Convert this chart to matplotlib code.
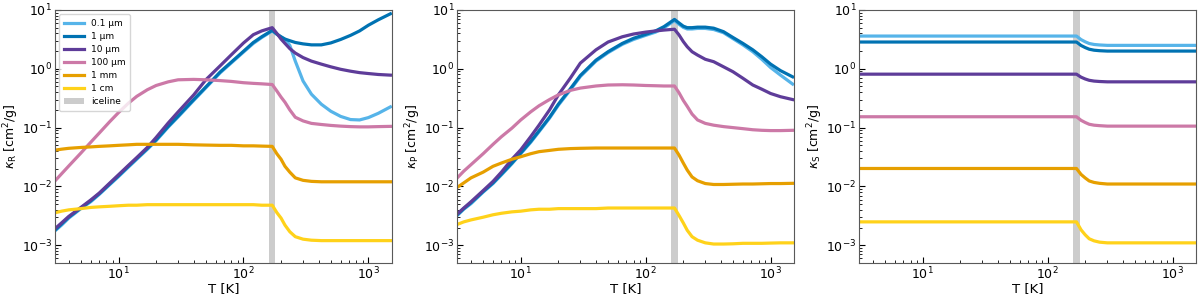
import numpy as np
import matplotlib
matplotlib.use("Agg")
import matplotlib.pyplot as plt

# ---------------- data ----------------
labels = ["0.1 µm", "1 µm", "10 µm", "100 µm", "1 mm", "1 cm"]
colors = ["#56B4E9", "#0072B2", "#5E3C99", "#CC79A7", "#E69F00", "#FFD21A"]

T = [3, 3.5, 4, 5, 6, 7, 8.5, 10, 12, 14, 17, 20, 25, 30, 40, 50, 65, 80, 100,
     120, 140, 170, 185, 200, 215, 235, 260, 300, 350, 420, 500, 600, 720, 850,
     1000, 1200, 1500]

# Rosseland mean opacity kappa_R
kR_01um = [0.00165, 0.0022, 0.0029, 0.0042, 0.0055, 0.0073, 0.0107, 0.0147, 0.0213,
           0.029, 0.0427, 0.060, 0.102, 0.152, 0.29, 0.475, 0.85, 1.26, 1.92,
           2.7, 3.4, 4.4, 3.85, 3.45, 3.15, 2.5, 1.35, 0.62, 0.37, 0.25,
           0.19, 0.155, 0.137, 0.135, 0.148, 0.175, 0.225]
kR_1um = [0.0017, 0.0023, 0.003, 0.0043, 0.0057, 0.0075, 0.011, 0.0152, 0.022,
          0.030, 0.044, 0.062, 0.105, 0.157, 0.30, 0.49, 0.88, 1.3, 1.98,
          2.8, 3.5, 4.5, 3.9, 3.5, 3.2, 3.0, 2.8, 2.65, 2.55, 2.55,
          2.75, 3.15, 3.7, 4.4, 5.5, 6.8, 8.6]
kR_10um = [0.0018, 0.0024, 0.0031, 0.0044, 0.0059, 0.0077, 0.0114, 0.0158, 0.0228,
           0.031, 0.046, 0.068, 0.12, 0.185, 0.36, 0.65, 1.12, 1.73, 2.74,
           3.8, 4.4, 5.0, 4.0, 3.2, 2.7, 2.2, 1.85, 1.55, 1.35, 1.2,
           1.08, 0.98, 0.91, 0.86, 0.83, 0.80, 0.78]
kR_100um = [0.0115, 0.0164, 0.0223, 0.037, 0.0565, 0.0805, 0.126, 0.18, 0.26,
            0.34, 0.44, 0.52, 0.60, 0.65, 0.66, 0.65, 0.63, 0.61, 0.58,
            0.565, 0.555, 0.54, 0.42, 0.33, 0.27, 0.20, 0.15, 0.13, 0.118, 0.113,
            0.109, 0.106, 0.104, 0.103, 0.103, 0.104, 0.105]
kR_1mm = [0.041, 0.043, 0.0445, 0.046, 0.047, 0.048, 0.049, 0.050, 0.051,
          0.052, 0.052, 0.052, 0.052, 0.052, 0.051, 0.0505, 0.050, 0.050, 0.049,
          0.049, 0.0485, 0.048, 0.036, 0.029, 0.022, 0.0175, 0.014, 0.0127, 0.0122, 0.012,
          0.012, 0.012, 0.012, 0.012, 0.012, 0.012, 0.012]
kR_1cm = [0.0035, 0.0038, 0.0040, 0.0042, 0.0044, 0.0045, 0.0046, 0.0047, 0.0048,
          0.0048, 0.0049, 0.0049, 0.0049, 0.0049, 0.0049, 0.0049, 0.0049, 0.0049, 0.0049,
          0.0049, 0.0048, 0.0048, 0.0036, 0.0029, 0.0022, 0.0017, 0.0014, 0.00127, 0.00122, 0.0012,
          0.0012, 0.0012, 0.0012, 0.0012, 0.0012, 0.0012, 0.0012]

# Planck mean opacity kappa_P
kP_01um = [0.0030, 0.0041, 0.0051, 0.0080, 0.0112, 0.0157, 0.0243, 0.036, 0.056,
           0.085, 0.145, 0.24, 0.44, 0.74, 1.35, 1.88, 2.6, 3.15, 3.7,
           4.2, 4.95, 6.6, 5.7, 5.05, 4.75, 4.75, 4.85, 4.85, 4.65, 4.1,
           3.25, 2.55, 1.95, 1.45, 1.05, 0.78, 0.55]
kP_1um = [0.0031, 0.0042, 0.0053, 0.0082, 0.0115, 0.0162, 0.025, 0.037, 0.058,
          0.088, 0.15, 0.25, 0.46, 0.77, 1.4, 1.95, 2.7, 3.3, 3.85,
          4.4, 5.2, 6.9, 6.0, 5.3, 5.0, 5.0, 5.1, 5.1, 4.9, 4.27,
          3.4, 2.7, 2.1, 1.6, 1.2, 0.93, 0.73]
kP_10um = [0.0032, 0.0043, 0.0055, 0.0085, 0.0122, 0.0175, 0.029, 0.042, 0.07,
           0.11, 0.20, 0.36, 0.70, 1.25, 2.1, 2.85, 3.5, 3.9, 4.2,
           4.4, 4.55, 4.7, 3.75, 2.9, 2.37, 1.95, 1.71, 1.45, 1.32, 1.08,
           0.89, 0.69, 0.53, 0.45, 0.38, 0.335, 0.30]
kP_100um = [0.0130, 0.0182, 0.0235, 0.036, 0.052, 0.070, 0.098, 0.135, 0.185,
            0.235, 0.30, 0.36, 0.43, 0.47, 0.51, 0.53, 0.535, 0.53, 0.52,
            0.515, 0.51, 0.51, 0.39, 0.29, 0.23, 0.17, 0.135, 0.118, 0.11, 0.104,
            0.10, 0.096, 0.092, 0.090, 0.089, 0.089, 0.090]
kP_1mm = [0.0092, 0.0115, 0.014, 0.0175, 0.022, 0.025, 0.029, 0.032, 0.036,
          0.039, 0.041, 0.0428, 0.044, 0.0445, 0.045, 0.045, 0.045, 0.045, 0.045,
          0.045, 0.045, 0.045, 0.034, 0.025, 0.019, 0.0145, 0.0125, 0.0112, 0.0108, 0.0108,
          0.0109, 0.011, 0.011, 0.0111, 0.0112, 0.0112, 0.0113]
kP_1cm = [0.0022, 0.0025, 0.0027, 0.0030, 0.0033, 0.0035, 0.0037, 0.0038, 0.0040,
          0.0041, 0.0041, 0.0042, 0.0042, 0.0042, 0.0042, 0.0043, 0.0043, 0.0043, 0.0043,
          0.0043, 0.0043, 0.0043, 0.0032, 0.0024, 0.0018, 0.0014, 0.00122, 0.0011, 0.00105, 0.00105,
          0.00106, 0.00108, 0.00108, 0.00108, 0.00109, 0.0011, 0.0011]

# Scattering opacity kappa_S
TS = [3, 170, 185, 200, 215, 235, 260, 300, 1500]
kS_01um = [3.6, 3.6, 3.13, 2.87, 2.69, 2.59, 2.54, 2.5, 2.5]
kS_1um = [2.85, 2.85, 2.49, 2.29, 2.15, 2.07, 2.03, 2.0, 2.0]
kS_10um = [0.81, 0.81, 0.72, 0.67, 0.637, 0.618, 0.608, 0.60, 0.60]
kS_100um = [0.153, 0.153, 0.133, 0.122, 0.114, 0.110, 0.108, 0.106, 0.106]
kS_1mm = [0.0202, 0.0202, 0.0160, 0.0139, 0.0124, 0.0117, 0.0113, 0.011, 0.011]
kS_1cm = [0.0025, 0.0025, 0.00183, 0.0015, 0.00129, 0.00119, 0.00113, 0.0011, 0.0011]

iceline = (160, 180)

panels = [
    (T, [kR_01um, kR_1um, kR_10um, kR_100um, kR_1mm, kR_1cm], r"$\kappa_{\rm R}$ [cm$^2$/g]"),
    (T, [kP_01um, kP_1um, kP_10um, kP_100um, kP_1mm, kP_1cm], r"$\kappa_{\rm P}$ [cm$^2$/g]"),
    (TS, [kS_01um, kS_1um, kS_10um, kS_100um, kS_1mm, kS_1cm], r"$\kappa_{\rm S}$ [cm$^2$/g]"),
]

# ---------------- figure ----------------
fig = plt.figure(figsize=(12, 2.97), dpi=100)
lefts = [0.0458, 0.381, 0.716]
for i, (tt, series, ylab) in enumerate(panels):
    ax = fig.add_axes([lefts[i], 0.1145, 0.281, 0.852])
    ax.axvspan(iceline[0], iceline[1], color="0.8", lw=0, zorder=1, label="iceline")
    for y, c, lab in zip(series, colors, labels):
        ax.plot(tt, y, color=c, lw=2.3, label=lab, zorder=2)
    ax.set_xscale("log")
    ax.set_yscale("log")
    ax.set_xlim(3.1, 1550)
    ax.set_ylim(5e-4, 10)
    ax.set_xlabel("T [K]", fontsize=9.5, labelpad=0)
    ax.set_ylabel(ylab, fontsize=9, labelpad=1)
    ax.tick_params(which="both", direction="in", labelsize=9, pad=2)
    ax.tick_params(which="major", length=4)
    ax.tick_params(which="minor", length=2)
    for s in ax.spines.values():
        s.set_color("0.35")
    if i == 0:
        h, l = ax.get_legend_handles_labels()
        order = [1, 2, 3, 4, 5, 6, 0]
        ax.legend([h[k] for k in order], [l[k] for k in order], loc="upper left",
                  fontsize=6.5, frameon=True, handlelength=2.2, labelspacing=0.45,
                  borderpad=0.5)

fig.savefig("out.png", dpi=100)
